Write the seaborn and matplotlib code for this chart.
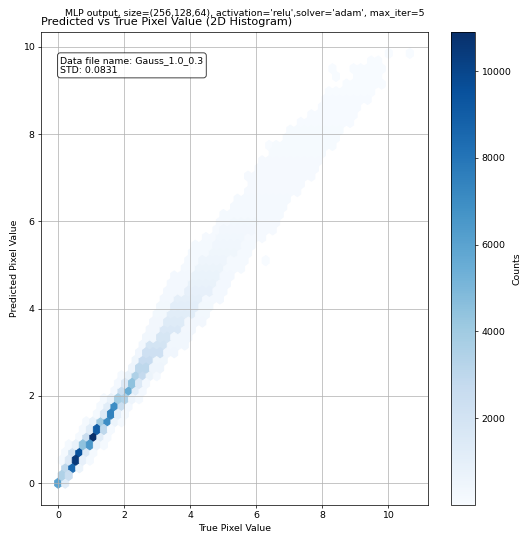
import numpy as np
import matplotlib
matplotlib.use("Agg")
import matplotlib.pyplot as plt
import seaborn as sns

# ---- binned results: true value, predicted value, number of pixels ----
# dense ridge close to the origin (one entry per hexagon)
ridge_true = [0.00, 0.21,
              0.11, 0.32,
              0.21, 0.43, 0.64,
              0.11, 0.32, 0.53, 0.75, 0.96,
              0.21, 0.43, 0.64, 0.85, 1.07,
              0.32, 0.53, 0.75, 0.96, 1.17, 1.38,
              0.64, 0.85, 1.07, 1.28, 1.49,
              0.75, 0.96, 1.17, 1.38, 1.60,
              0.85, 1.07, 1.28, 1.49, 1.70, 1.92,
              1.17, 1.38, 1.60, 1.81, 2.02,
              1.28, 1.49, 1.70, 1.92, 2.13,
              1.38, 1.60, 1.81, 2.02, 2.24, 2.45,
              1.70, 1.92, 2.13, 2.34, 2.56,
              1.81, 2.02, 2.24, 2.45, 2.66,
              1.92, 2.13, 2.34, 2.56, 2.77, 2.98]
ridge_pred = [0.00, 0.00,
              0.18, 0.18,
              0.35, 0.35, 0.35,
              0.53, 0.53, 0.53, 0.53, 0.53,
              0.70, 0.70, 0.70, 0.70, 0.70,
              0.88, 0.88, 0.88, 0.88, 0.88, 0.88,
              1.06, 1.06, 1.06, 1.06, 1.06,
              1.23, 1.23, 1.23, 1.23, 1.23,
              1.41, 1.41, 1.41, 1.41, 1.41, 1.41,
              1.58, 1.58, 1.58, 1.58, 1.58,
              1.76, 1.76, 1.76, 1.76, 1.76,
              1.93, 1.93, 1.93, 1.93, 1.93, 1.93,
              2.11, 2.11, 2.11, 2.11, 2.11,
              2.29, 2.29, 2.29, 2.29, 2.29,
              2.46, 2.46, 2.46, 2.46, 2.46, 2.46]
ridge_count = [6000, 1200,
               3500, 2500,
               3000, 8500, 600,
               200, 1500, 10500, 900, 200,
               200, 2000, 9500, 1500, 200,
               200, 800, 4500, 6500, 700, 200,
               200, 2500, 10900, 1200, 200,
               200, 1200, 9000, 3000, 200,
               200, 700, 4000, 7000, 600, 200,
               200, 1500, 7500, 1000, 200,
               200, 1200, 7000, 2500, 250,
               200, 800, 3800, 3500, 500, 200,
               250, 2500, 5500, 1200, 250,
               250, 1500, 4500, 1500, 250,
               200, 800, 3500, 2800, 600, 200]

# wider band further out, one row of hexagons per predicted level
band_pred = [2.64, 2.81, 2.99, 3.17, 3.34, 3.52, 3.69, 3.87, 4.05, 4.22,
             4.40, 4.57, 4.75, 4.93, 5.10, 5.28, 5.45, 5.63, 5.80, 5.98,
             6.16, 6.33, 6.51, 6.68, 6.86, 7.04, 7.21, 7.39, 7.56, 7.74,
             7.92, 8.09, 8.27, 8.44, 8.62, 8.79, 8.97, 9.15, 9.32, 9.50]
band_lo = [2.10, 2.20, 2.30, 2.40, 2.50, 2.60, 2.70, 2.85, 2.95, 3.10,
           3.20, 3.35, 3.50, 3.65, 3.80, 3.95, 4.15, 4.35, 4.60, 4.80,
           4.95, 5.15, 5.35, 5.55, 5.65, 5.75, 5.95, 6.15, 6.35, 6.55,
           6.75, 6.95, 7.25, 7.55, 7.80, 8.00, 8.30, 8.60, 8.90, 9.10]
band_hi = [3.10, 3.30, 3.60, 3.85, 4.05, 4.25, 4.50, 4.60, 4.70, 4.90,
           5.10, 5.25, 5.40, 5.60, 5.75, 5.90, 6.05, 6.30, 6.50, 6.65,
           6.80, 6.95, 7.10, 7.30, 7.50, 7.75, 7.90, 8.00, 8.20, 8.40,
           8.55, 8.70, 8.85, 9.00, 9.20, 9.40, 9.60, 9.80, 9.90, 10.00]
band_count = [500, 450, 400, 380, 350, 320, 300, 280, 260, 250,
              240, 230, 220, 210, 200, 190, 180, 170, 160, 150,
              200, 190, 180, 170, 160, 150, 140, 130, 120, 110,
              100, 90, 80, 70, 60, 50, 40, 30, 25, 20]

# brighter middle of the band
core_pred = [2.64, 2.81, 2.99, 3.17, 3.34, 3.52, 3.69, 3.87, 4.05, 4.22,
             4.40, 4.57, 4.75, 4.93, 5.10, 5.28, 5.45, 5.63, 5.80, 5.98]
core_lo = [2.40, 2.50, 2.60, 2.75, 2.90, 3.00, 3.15, 3.30, 3.45, 3.60,
           3.75, 3.90, 4.05, 4.20, 4.35, 4.50, 4.65, 4.80, 5.00, 5.20]
core_hi = [2.80, 2.95, 3.10, 3.30, 3.50, 3.70, 3.90, 4.10, 4.30, 4.45,
           4.60, 4.75, 4.90, 5.05, 5.20, 5.35, 5.50, 5.70, 5.90, 6.10]
core_count = [3000, 2600, 2300, 2000, 1800, 1600, 1400, 1200, 1100, 1000,
              900, 800, 700, 600, 520, 450, 400, 350, 300, 260]

# isolated hexagons away from the band
stray_true = [6.28, 6.39, 8.19, 8.41, 8.31, 8.95, 9.48, 9.69, 10.01, 10.65]
stray_pred = [5.10, 7.74, 8.97, 9.32, 9.50, 9.50, 9.67, 9.67, 9.85, 9.85]
stray_count = [40, 20, 15, 12, 10, 10, 8, 6, 3, 2]

suptitle_text = "MLP output, size=(256,128,64), activation='relu',solver='adam', max_iter=5"
title_text = "Predicted vs True Pixel Value (2D Histogram)"
info_text = "Data file name: Gauss_1.0_0.3\nSTD: 0.0831"

# ---- hexagon grid ----
GRIDSIZE = 50
X_MIN, X_MAX, Y_MIN, Y_MAX = 0.0, 10.65, 0.0, 9.85
sx = (X_MAX - X_MIN) / GRIDSIZE
half_row = (Y_MAX - Y_MIN) / int(GRIDSIZE / np.sqrt(3)) / 2


def row_centres(level, lo, hi):
    r = int(round((level - Y_MIN) / half_row))
    offset = 0.0 if r % 2 == 0 else sx / 2
    xs = X_MIN + offset + sx * np.arange(GRIDSIZE + 1)
    return xs[(xs >= lo - 1e-9) & (xs <= hi + 1e-9)]


xs_all, ys_all, cs_all = list(ridge_true), list(ridge_pred), list(ridge_count)
core = {p: (lo, hi, c) for p, lo, hi, c in zip(core_pred, core_lo, core_hi, core_count)}
for p, lo, hi, c in zip(band_pred, band_lo, band_hi, band_count):
    xs = row_centres(p, lo, hi)
    counts = np.full(xs.shape, float(c))
    if p in core:
        clo, chi, cc = core[p]
        counts[(xs >= clo) & (xs <= chi)] = cc
    xs_all.extend(xs)
    ys_all.extend([p] * len(xs))
    cs_all.extend(counts)
xs_all.extend(stray_true)
ys_all.extend(stray_pred)
cs_all.extend(stray_count)

# ---- figure ----
plt.rcParams["font.size"] = 10.4
W, H, DPI = 522, 534, 65
fig = plt.figure(figsize=(W / DPI, H / DPI), dpi=DPI)
ax = fig.add_axes([41 / W, 1 - 505 / H, 387 / W, 473 / H])
cax = fig.add_axes([451 / W, 1 - 505 / H, 24 / W, 473 / H])

cmap = sns.color_palette("Blues", as_cmap=True)
hb = ax.hexbin(np.array(xs_all), np.array(ys_all), C=np.array(cs_all),
               reduce_C_function=np.sum, gridsize=GRIDSIZE,
               extent=(X_MIN, X_MAX, Y_MIN, Y_MAX), cmap=cmap)
cb = fig.colorbar(hb, cax=cax)
cb.set_label("Counts", labelpad=1.5)

ax.set_xlim(-0.52, 11.2)
ax.set_ylim(-0.5, 10.34)
ax.grid(True)
ax.set_xlabel("True Pixel Value")
ax.set_ylabel("Predicted Pixel Value")
ax.set_title(title_text, loc="left", pad=7.5, fontsize=12.5)
fig.text(245 / W, 1 - 15.5 / H, suptitle_text, ha="center", va="baseline", fontsize=10.4)
ax.text(0.05, 0.95, info_text, transform=ax.transAxes, va="top", fontsize=10.4,
        bbox=dict(boxstyle="round", facecolor="white", alpha=0.8))

fig.savefig("out.png", dpi=DPI)
